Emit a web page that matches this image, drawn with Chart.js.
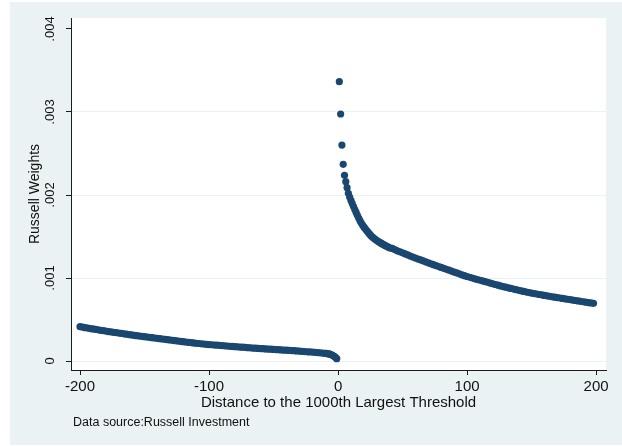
<!DOCTYPE html>
<html><head><meta charset="utf-8">
<script src="https://cdn.jsdelivr.net/npm/chart.js@4"></script>
<style>html,body{margin:0;padding:0;background:#fff}canvas{display:block}</style>
</head><body>
<canvas id="c" width="622" height="446" style="width:622px;height:446px"></canvas>
<script>
// Distance to the 1000th largest threshold (below threshold)
const leftDistances = [
-200,-198,-196,-194,-192,-190,-188,-186,-184,-182,
-180,-178,-176,-174,-172,-170,-168,-166,-164,-162,
-160,-158,-156,-154,-152,-150,-148,-146,-144,-142,
-140,-138,-136,-134,-132,-130,-128,-126,-124,-122,
-120,-118,-116,-114,-112,-110,-108,-106,-104,-102,
-100,-98,-96,-94,-92,-90,-88,-86,-84,-82,
-80,-78,-76,-74,-72,-70,-68,-66,-64,-62,
-60,-58,-56,-54,-52,-50,-48,-46,-44,-42,
-40,-38,-36,-34,-32,-30,-28,-26,-24,-22,
-20,-18,-16,-14,-12,-10,-9,-8,-7,-6,-5,-4,-3,-2,-1];
const leftWeights = [
413e-6,408e-6,402e-6,397e-6,391e-6,386e-6,381e-6,376e-6,370e-6,365e-6,
360e-6,355e-6,351e-6,346e-6,342e-6,337e-6,332e-6,328e-6,323e-6,318e-6,
314e-6,309e-6,305e-6,301e-6,297e-6,293e-6,289e-6,285e-6,281e-6,277e-6,
273e-6,269e-6,265e-6,261e-6,257e-6,253e-6,249e-6,245e-6,241e-6,237e-6,
233e-6,229e-6,225e-6,222e-6,218e-6,214e-6,211e-6,207e-6,204e-6,201e-6,
198e-6,196e-6,193e-6,191e-6,188e-6,186e-6,183e-6,181e-6,178e-6,176e-6,
173e-6,171e-6,168e-6,166e-6,163e-6,161e-6,159e-6,156e-6,154e-6,152e-6,
150e-6,148e-6,146e-6,144e-6,142e-6,140e-6,138e-6,136e-6,134e-6,132e-6,
130e-6,128e-6,126e-6,124e-6,121e-6,119e-6,117e-6,114e-6,111e-6,109e-6,
107e-6,104e-6,101e-6,99e-6,96e-6,93e-6,91e-6,88e-6,85e-6,80e-6,74e-6,66e-6,56e-6,44e-6,28e-6];
// Above threshold
const rightDistances = [
1,2,3,4,5,6,7,8,9,10,
11,12,13,14,15,16,17,18,19,20,
21,22,23,24,25,26,27,28,29,30,
31,32,33,34,35,36,37,38,39,40,
42,44,46,48,50,
52,54,56,58,60,62,64,66,68,70,
72,74,76,78,80,82,84,86,88,90,
92,94,96,98,100,102,104,106,108,110,
112,114,116,118,120,122,124,126,128,130,
132,134,136,138,140,142,144,146,148,150,
152,154,156,158,160,162,164,166,168,170,
172,174,176,178,180,182,184,186,188,190,
192,194,196,198];
const rightWeights = [
3365e-6,2976e-6,2602e-6,2370e-6,2237e-6,2160e-6,2088e-6,2020e-6,1975e-6,1935e-6,
1897e-6,1860e-6,1824e-6,1790e-6,1756e-6,1722e-6,1691e-6,1662e-6,1638e-6,1615e-6,
1595e-6,1575e-6,1556e-6,1537e-6,1519e-6,1502e-6,1489e-6,1476e-6,1464e-6,1452e-6,
1442e-6,1432e-6,1422e-6,1413e-6,1404e-6,1395e-6,1387e-6,1379e-6,1371e-6,1364e-6,
1356e-6,1342e-6,1328e-6,1315e-6,1303e-6,
1290e-6,1278e-6,1265e-6,1253e-6,1241e-6,1229e-6,1218e-6,1206e-6,1195e-6,1183e-6,
1172e-6,1160e-6,1149e-6,1138e-6,1127e-6,1116e-6,1105e-6,1094e-6,1083e-6,1072e-6,
1061e-6,1050e-6,1039e-6,1028e-6,1018e-6,1009e-6,1000e-6,991e-6,982e-6,973e-6,
965e-6,956e-6,948e-6,939e-6,931e-6,922e-6,913e-6,905e-6,897e-6,890e-6,
882e-6,874e-6,867e-6,859e-6,852e-6,845e-6,838e-6,831e-6,824e-6,818e-6,
812e-6,807e-6,801e-6,796e-6,790e-6,785e-6,780e-6,774e-6,769e-6,764e-6,
759e-6,754e-6,749e-6,744e-6,739e-6,734e-6,729e-6,724e-6,719e-6,714e-6,
709e-6,704e-6,700e-6,695e-6];

const xTickValues = [-200, -100, 0, 100, 200];
const yTickValues = [0, 0.001, 0.002, 0.003, 0.004];
const yTickLabels = ['0', '.001', '.002', '.003', '.004'];

const xTitle = 'Distance to the 1000th Largest Threshold';
const yTitle = 'Russell Weights';
const noteText = 'Data source:Russell Investment';

const FONT = "'Liberation Sans', Arial, Helvetica, sans-serif";
const MARK = '#1A476F';
const BG = '#EAF2F3';
const AX = '#1c1c1c';

const points = leftDistances.map((x, i) => ({x, y: leftWeights[i]}))
  .concat(rightDistances.map((x, i) => ({x, y: rightWeights[i]})));

const bgPlugin = {
  id: 'bg',
  beforeDraw(chart) {
    const {ctx, chartArea: a, width, height} = chart;
    ctx.save();
    ctx.fillStyle = '#fff';
    ctx.fillRect(0, 0, width, height);
    ctx.fillStyle = BG;
    ctx.fillRect(10, 2, width - 10, height - 3);
    ctx.fillStyle = '#fff';
    ctx.fillRect(a.left, a.top, a.right - a.left, a.bottom - a.top);
    ctx.restore();
  },
  afterDraw(chart) {
    const ctx = chart.ctx;
    ctx.save();
    ctx.fillStyle = '#111';
    ctx.font = '12.5px ' + FONT;
    ctx.textBaseline = 'middle';
    ctx.textAlign = 'left';
    ctx.fillText(noteText, 73, 422.5);
    ctx.restore();
  }
};

Chart.defaults.font.family = FONT;
Chart.defaults.color = '#111';

new Chart(document.getElementById('c'), {
  type: 'scatter',
  data: {
    datasets: [{
      data: points,
      pointRadius: 3.6,
      pointBorderWidth: 0,
      pointBackgroundColor: MARK,
      pointBorderColor: MARK,
      showLine: false
    }]
  },
  options: {
    responsive: false,
    devicePixelRatio: 1,
    animation: false,
    events: [],
    layout: {padding: {left: 10, right: 16, top: 18, bottom: 0}},
    plugins: {legend: {display: false}, tooltip: {enabled: false}},
    scales: {
      x: {
        type: 'linear',
        min: -207,
        max: 207.7,
        afterBuildTicks(s) { s.ticks = xTickValues.map(v => ({value: v})); },
        afterFit(s) { s.height = 76; },
        grid: {drawOnChartArea: false, drawTicks: true, tickLength: 5, tickColor: AX, tickWidth: 1},
        border: {display: true, color: AX, width: 1},
        ticks: {
          font: {size: 15},
          color: '#111',
          padding: 3,
          maxRotation: 0,
          minRotation: 0,
          callback: v => String(v)
        },
        title: {
          display: true,
          text: xTitle,
          font: {size: 15},
          color: '#111',
          padding: {top: 0, bottom: 34}
        }
      },
      y: {
        type: 'linear',
        min: -0.0001084,
        max: 0.0041325,
        afterBuildTicks(s) { s.ticks = yTickValues.map(v => ({value: v})); },
        afterFit(s) { s.width = 61; },
        grid: {
          drawOnChartArea: true,
          drawTicks: true,
          tickLength: 5,
          tickColor: AX,
          color: ctx => (ctx.tick && ctx.tick.value >= 0.004) ? 'rgba(0,0,0,0)' : BG,
          lineWidth: 1
        },
        border: {display: true, color: AX, width: 1},
        ticks: {
          font: {size: 13},
          color: '#111',
          padding: 3,
          minRotation: 90,
          maxRotation: 90,
          crossAlign: 'center',
          callback: (v) => {
            const i = yTickValues.findIndex(t => Math.abs(t - v) < 1e-9);
            return i >= 0 ? yTickLabels[i] : '';
          }
        },
        title: {
          display: true,
          text: yTitle,
          font: {size: 14},
          color: '#111',
          padding: {top: 17, bottom: 0}
        }
      }
    }
  },
  plugins: [bgPlugin]
});
</script>
</body></html>
